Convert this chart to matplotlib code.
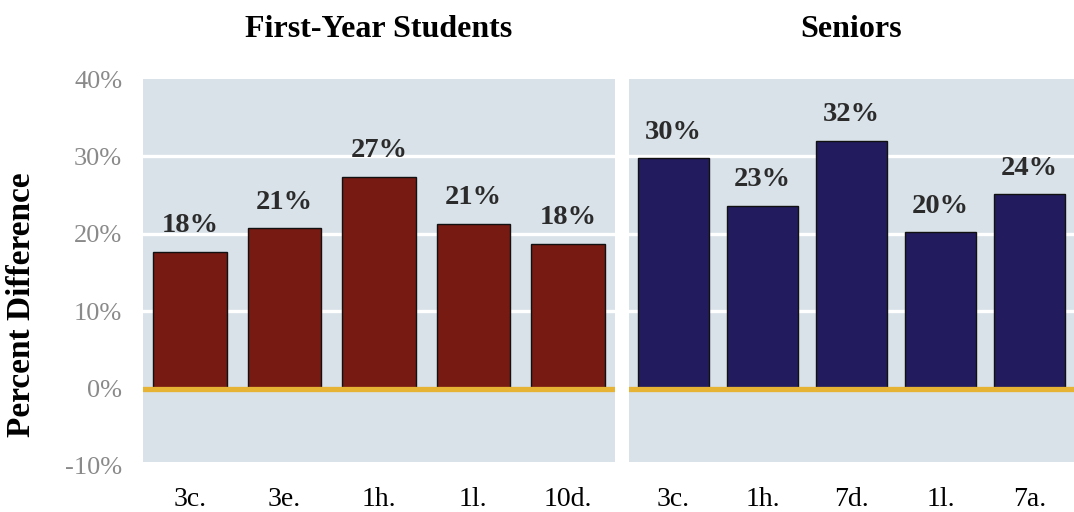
import numpy as np
import matplotlib.pyplot as plt

fy_cats = ["3c.", "3e.", "1h.", "1l.", "10d."]
fy_vals = [17.7, 20.7, 27.4, 21.3, 18.7]
fy_labels = ["18%", "21%", "27%", "21%", "18%"]

sr_cats = ["3c.", "1h.", "7d.", "1l.", "7a."]
sr_vals = [29.8, 23.6, 32.0, 20.2, 25.1]
sr_labels = ["30%", "23%", "32%", "20%", "24%"]

yticks = [-10, 0, 10, 20, 30, 40]

plt.rcParams['font.family'] = ['Liberation Serif', 'DejaVu Serif']

bg = "#d9e1e9"
gold = "#e6b334"

fig = plt.figure(figsize=(10.74, 5.12), dpi=100)
ax1 = fig.add_axes([143 / 1074, 46 / 512, 472 / 1074, 387 / 512])
ax2 = fig.add_axes([629 / 1074, 46 / 512, 445 / 1074, 387 / 512])


def panel(ax, cats, vals, labels, color, width, title):
    x = np.arange(len(cats))
    ax.set_facecolor("none")
    ax.axhspan(-9.5, 40, color=bg, zorder=0, lw=0)
    for g in [10, 20, 30]:
        ax.axhline(g, color="white", lw=2.4, zorder=1)
    ax.bar(x, vals, width=width, color=color, edgecolor="#111111", lw=1, zorder=2)
    ax.axhline(0, color=gold, lw=3.8, zorder=3)
    for xi, v, lab in zip(x, vals, labels):
        ax.annotate(lab, (xi, v), xytext=(0, 14), textcoords="offset points",
                    ha="center", va="baseline", fontsize=20.5, fontweight="bold",
                    color="#2b2b2b")
    ax.set_xlim(-0.5, len(cats) - 0.5)
    ax.set_ylim(-10, 40)
    ax.set_xticks(x)
    ax.set_xticklabels(cats, fontsize=20, color="black")
    ax.tick_params(axis="x", length=0, pad=15)
    for s in ax.spines.values():
        s.set_visible(False)
    ax.set_title(title, fontsize=23, fontweight="bold", pad=30)


panel(ax1, fy_cats, fy_vals, fy_labels, "#761a12", 0.78, "First-Year Students")
panel(ax2, sr_cats, sr_vals, sr_labels, "#221c5e", 0.8, "Seniors")

ax1.set_yticks(yticks)
ax1.set_yticklabels([f"{t}%" for t in yticks], fontsize=19, color="#8a8a8a")
ax1.tick_params(axis="y", length=0, pad=15)
ax2.set_yticks([])

fig.text(22 / 1074, 1 - 305 / 512, "Percent Difference", rotation=90,
         ha="center", va="center", fontsize=24, fontweight="bold")

fig.savefig("out.png", dpi=100)
